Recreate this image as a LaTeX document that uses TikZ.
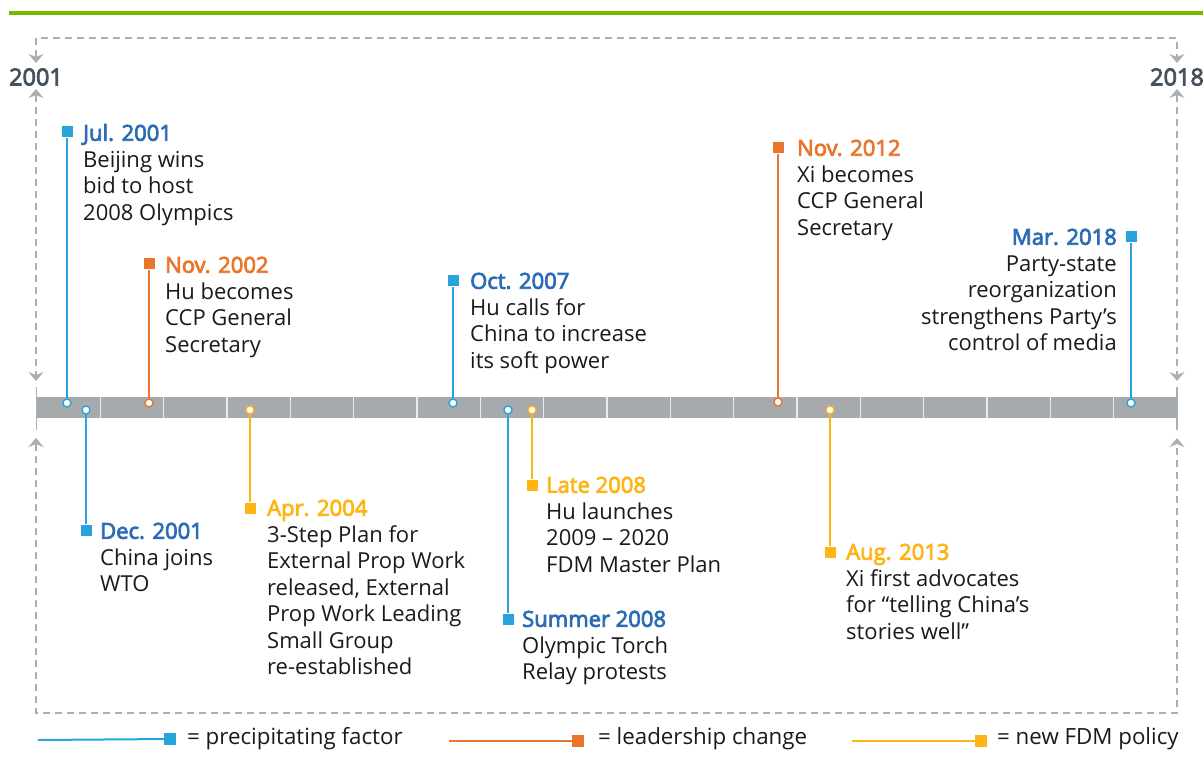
\documentclass[tikz,border=0pt]{standalone}
\usepackage{fontspec}
\setmainfont{Open Sans}
\newfontfamily\semibfont[FakeBold=3.5]{Open Sans}
\usetikzlibrary{arrows.meta}
\definecolor{pfblue}{HTML}{29A3DC}
\definecolor{pfbluetext}{HTML}{2B6CB5}
\definecolor{lcorange}{HTML}{E8762C}
\definecolor{fdmyellow}{HTML}{FDB515}
\definecolor{bargray}{HTML}{A7AAAD}
\definecolor{framegray}{HTML}{ABAFB3}
\definecolor{yeargray}{HTML}{46535E}
\definecolor{topgreen}{HTML}{76B900}
\definecolor{bodytext}{HTML}{1A1A1A}
\tikzset{
  frameline/.style={framegray, line width=1.5pt, dash pattern=on 7pt off 5pt},
  framearrow/.style={{Stealth[length=9pt,width=15pt,inset=3pt]}-{Stealth[length=9pt,width=15pt,inset=3pt]}},
  tickline/.style={framegray, line width=1.5pt},
  yearlbl/.style={inner sep=0pt, text=yeargray, font=\fontsize{23.5}{26}\semibfont},
  dot/.style={circle, draw=#1, fill=white, line width=1.4pt, inner sep=0pt, minimum size=8pt},
  sq/.style={rectangle, fill=#1, inner sep=0pt, minimum size=11pt},
  conn/.style={draw=#1, line width=2pt},
  evtext/.style={inner sep=0pt, align=left, text=bodytext, font=\fontsize{22}{26.5}\selectfont},
  evtextr/.style={inner sep=0pt, align=right, text=bodytext, font=\fontsize{22}{26.5}\selectfont},
  legtext/.style={inner sep=0pt, anchor=west, text=bodytext, font=\fontsize{22.3}{26.5}\selectfont},
}
\newcommand{\datelbl}[2]{\strut{\semibfont\color{#1}#2}}
\begin{document}
\begin{tikzpicture}[x=1pt,y=-1pt]
\useasboundingbox (0,0) rectangle (1203,767);
% top green rule
\draw[topgreen, line width=3.5pt] (9,13) -- (1203,13);
% year labels
\node[yearlbl] (y2001) at (36,77) {2001};
\node[yearlbl] (y2018) at (1177,77) {2018};
% frame
\draw[frameline, framearrow] (36,63) -- (36,38) -- (1177,38) -- (1177,63);
\draw[frameline, framearrow] (36,89) -- (36,381);
\draw[frameline, framearrow] (1177,89) -- (1177,381);
\draw[frameline, framearrow] (36,438) -- (36,713) -- (1177,713) -- (1177,438);
\draw[tickline] (36.5,387) -- (36.5,430);
\draw[tickline] (1177,387) -- (1177,430);
% bar
\fill[bargray] (37,397) rectangle (1177,418);
\foreach \k in {1,...,17} {
  \draw[white!92!black, line width=1.5pt] ({37+63.33*\k},397) -- ({37+63.33*\k},418);
}
% events
% 1 Jul 2001
\node[sq=pfblue] (s1) at (67,132) {};
\node[dot=pfblue] (c1) at (67,403) {};
\draw[conn=pfblue] (c1) -- (s1);
\node[evtext, anchor=north west] (t1) at (83,122) {\datelbl{pfbluetext}{Jul. 2001}\\Beijing wins\\bid to host\\2008 Olympics};
% 2 Dec 2001
\node[sq=pfblue] (s2) at (86,530) {};
\node[dot=pfblue] (c2) at (86,410) {};
\draw[conn=pfblue] (c2) -- (s2);
\node[evtext, anchor=north west] (t2) at (100,520) {\datelbl{pfbluetext}{Dec. 2001}\\China joins\\WTO};
% 3 Nov 2002
\node[sq=lcorange] (s3) at (149,264) {};
\node[dot=lcorange] (c3) at (149,403) {};
\draw[conn=lcorange] (c3) -- (s3);
\node[evtext, anchor=north west] (t3) at (165,254) {\datelbl{lcorange}{Nov. 2002}\\Hu becomes\\CCP General\\Secretary};
% 4 Apr 2004
\node[sq=fdmyellow] (s4) at (250,508) {};
\node[dot=fdmyellow] (c4) at (250,410) {};
\draw[conn=fdmyellow] (c4) -- (s4);
\node[evtext, anchor=north west] (t4) at (267,497) {\datelbl{fdmyellow}{Apr. 2004}\\3-Step Plan for\\External Prop Work\\released, External\\Prop Work Leading\\Small Group\\re-established};
% 5 Oct 2007
\node[sq=pfblue] (s5) at (453,281) {};
\node[dot=pfblue] (c5) at (453,403) {};
\draw[conn=pfblue] (c5) -- (s5);
\node[evtext, anchor=north west] (t5) at (470,270) {\datelbl{pfbluetext}{Oct. 2007}\\Hu calls for\\China to increase\\its soft power};
% 6 Summer 2008
\node[sq=pfblue] (s6) at (508,619) {};
\node[dot=pfblue] (c6) at (508,410) {};
\draw[conn=pfblue] (c6) -- (s6);
\node[evtext, anchor=north west] (t6) at (522,608) {\datelbl{pfbluetext}{Summer 2008}\\Olympic Torch\\Relay protests};
% 7 Late 2008
\node[sq=fdmyellow] (s7) at (532,485) {};
\node[dot=fdmyellow] (c7) at (532,410) {};
\draw[conn=fdmyellow] (c7) -- (s7);
\node[evtext, anchor=north west] (t7) at (546,474) {\datelbl{fdmyellow}{Late 2008}\\Hu launches\\2009 – 2020\\FDM Master Plan};
% 8 Nov 2012
\node[sq=lcorange] (s8) at (778,148) {};
\node[dot=lcorange] (c8) at (778,402) {};
\draw[conn=lcorange] (c8) -- (s8);
\node[evtext, anchor=north west] (t8) at (797,137) {\datelbl{lcorange}{Nov. 2012}\\Xi becomes\\CCP General\\Secretary};
% 9 Aug 2013
\node[sq=fdmyellow] (s9) at (830,552) {};
\node[dot=fdmyellow] (c9) at (830,410) {};
\draw[conn=fdmyellow] (c9) -- (s9);
\node[evtext, anchor=north west] (t9) at (846,541) {\datelbl{fdmyellow}{Aug. 2013}\\Xi first advocates\\for “telling China’s\\stories well”};
% 10 Mar 2018
\node[sq=pfblue] (s10) at (1131,237) {};
\node[dot=pfblue] (c10) at (1131,403) {};
\draw[conn=pfblue] (c10) -- (s10);
\node[evtextr, anchor=north east] (t10) at (1117,226) {\datelbl{pfbluetext}{Mar. 2018}\\Party-state\\reorganization\\strengthens Party’s\\control of media};
% legend
\coordinate (l1) at (38,740);
\node[sq=pfblue, minimum size=12pt] (ls1) at (170,739) {};
\draw[pfblue, line width=2pt] (l1) -- (ls1);
\node[legtext] (lt1) at (187,739) {= precipitating factor};
\coordinate (l2) at (449,741);
\node[sq=lcorange, minimum size=12pt] (ls2) at (578,741) {};
\draw[lcorange, line width=2pt] (l2) -- (ls2);
\node[legtext] (lt2) at (598,739) {= leadership change};
\coordinate (l3) at (852,741);
\node[sq=fdmyellow, minimum size=12pt] (ls3) at (981,741) {};
\draw[fdmyellow, line width=2pt] (l3) -- (ls3);
\node[legtext] (lt3) at (997,739) {= new FDM policy};
\end{tikzpicture}
\end{document}
